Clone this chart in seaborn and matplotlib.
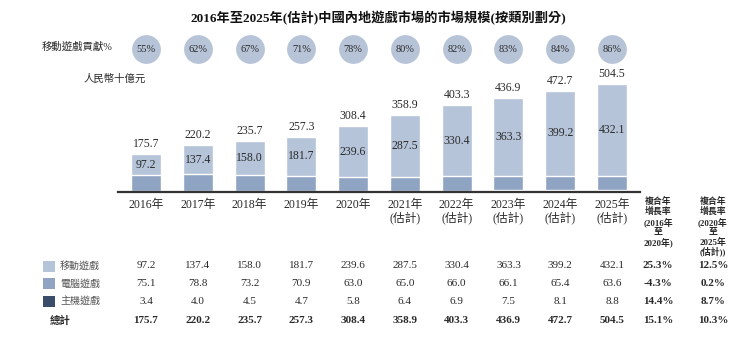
import numpy as np
import pandas as pd
import matplotlib
matplotlib.use('Agg')
import matplotlib.pyplot as plt
import seaborn as sns
from matplotlib.transforms import blended_transform_factory
from matplotlib.patches import Rectangle

# ---------------- data ----------------
years = ['2016年', '2017年', '2018年', '2019年', '2020年',
         '2021年\n(估計)', '2022年\n(估計)', '2023年\n(估計)', '2024年\n(估計)', '2025年\n(估計)']
mobile = [97.2, 137.4, 158.0, 181.7, 239.6, 287.5, 330.4, 363.3, 399.2, 432.1]
pc = [75.1, 78.8, 73.2, 70.9, 63.0, 65.0, 66.0, 66.1, 65.4, 63.6]
console = [3.4, 4.0, 4.5, 4.7, 5.8, 6.4, 6.9, 7.5, 8.1, 8.8]
total = [175.7, 220.2, 235.7, 257.3, 308.4, 358.9, 403.3, 436.9, 472.7, 504.5]
mobile_share = ['55%', '62%', '67%', '71%', '78%', '80%', '82%', '83%', '84%', '86%']
series_names = ['移動遊戲', '電腦遊戲', '主機遊戲']
total_name = '總計'
cagr_1620 = ['25.3%', '-4.3%', '14.4%', '15.1%']
cagr_2025 = ['12.5%', '0.2%', '8.7%', '10.3%']
cagr_head1 = ['複合年', '增長率', '(2016年', '至', '2020年)']
cagr_head2 = ['複合年', '增長率', '(2020年', '至', '2025年', '(估計))']
title = '2016年至2025年(估計)中國內地遊戲市場的市場規模(按類別劃分)'
share_label = '移動遊戲貢獻%'
unit_label = '人民幣十億元'

# ---------------- style ----------------
C_LIGHT = '#b5c4d9'
C_MED = '#8fa3c2'
C_DARK = '#3b4c6b'
C_CIRCLE = '#b7c4d8'
TXT = '#2a2a2a'

sns.set_theme(style='white')
FONT = ['Liberation Serif', 'Noto Sans CJK TC']
plt.rcParams['font.family'] = FONT

W, H = 750, 337
fig = plt.figure(figsize=(W / 100, H / 100), dpi=100)
fig.patch.set_facecolor('white')

base_px = 192
top_px = 40
scale = 0.2145  # px per unit
ax = fig.add_axes([118 / W, (H - base_px) / H, (640 - 118) / W, (base_px - top_px) / H])

df = pd.DataFrame({'year': years, 'mobile': mobile, 'pc': pc, 'console': console, 'total': total})
df['mid'] = df['pc'] + df['console']
df['top'] = df['mid'] + df['mobile']

bw = 0.58
sns.barplot(data=df, x='year', y='top', color=C_LIGHT, saturation=1, width=bw, ax=ax, order=years)
sns.barplot(data=df, x='year', y='mid', color=C_MED, saturation=1, width=bw, ax=ax, order=years)
sns.barplot(data=df, x='year', y='console', color=C_DARK, saturation=1, width=bw, ax=ax, order=years)

ax.set_xlim(-0.54, 9.54)
ax.set_ylim(0, (base_px - top_px) / scale)
ax.set_xlabel('')
ax.set_ylabel('')
ax.set_yticks([])
for s in ['top', 'right', 'left']:
    ax.spines[s].set_visible(False)
ax.spines['bottom'].set_color('#333333')
ax.spines['bottom'].set_linewidth(1.6)
ax.tick_params(axis='x', length=0, pad=5, labelsize=8.5, colors=TXT)
ax.set_xticks(range(len(years)))
ax.set_xticklabels(years, fontfamily=FONT, linespacing=1.0)

# value labels on bars
for i in range(len(years)):
    ax.text(i, df['top'][i] + 10 / scale, f'{total[i]:.1f}',
            ha='center', va='center', fontsize=8.5, color=TXT)
    ax.text(i, df['mid'][i] + mobile[i] / 2, f'{mobile[i]:.1f}',
            ha='center', va='center', fontsize=8.5, color=TXT)

trans = blended_transform_factory(ax.transData, fig.transFigure)

def fy(ypx):
    return 1 - ypx / H

# title
fig.text(378 / W, fy(18), title, ha='center', va='center', fontsize=9.5, fontweight='bold', color='#111111')

# circles row
xs = np.arange(len(years))
ax.scatter(xs, [fy(49)] * len(xs), s=430, color=C_CIRCLE, transform=trans, clip_on=False, zorder=3, linewidths=0)
for i in xs:
    ax.text(i, fy(49), mobile_share[i], transform=trans, ha='center', va='center', fontsize=7.5, color=TXT, zorder=4)
fig.text(77 / W, fy(47), share_label, ha='center', va='center', fontsize=7.5, color=TXT)
fig.text(115 / W, fy(79), unit_label, ha='center', va='center', fontsize=7.5, color=TXT)

# CAGR headers (one line at a time, ~10.2 px apart)
for xpx, lines in [(658, cagr_head1), (713, cagr_head2)]:
    for k, ln in enumerate(lines):
        fig.text(xpx / W, fy(201.5 + 10.2 * k), ln, ha='center', va='center', fontsize=6.4,
                 fontweight='bold', color=TXT)

# table
row_y = [266, 283.5, 301]
colors = [C_LIGHT, C_MED, C_DARK]
vals = [mobile, pc, console]
for r in range(3):
    fig.patches.append(Rectangle((43 / W, fy(row_y[r] + 5.5)), 12 / W, 11 / H, transform=fig.transFigure,
                                 facecolor=colors[r], edgecolor='none'))
    fig.text(60 / W, fy(row_y[r]), series_names[r], ha='left', va='center', fontsize=7.2, color='#555555')
    for i in xs:
        ax.text(i, fy(row_y[r]), f'{vals[r][i]:.1f}', transform=trans, ha='center', va='center',
                fontsize=8, color=TXT)
    fig.text(658 / W, fy(row_y[r]), cagr_1620[r], ha='center', va='center', fontsize=8, fontweight='bold', color=TXT)
    fig.text(713 / W, fy(row_y[r]), cagr_2025[r], ha='center', va='center', fontsize=8, fontweight='bold', color=TXT)

ty = 320.5
fig.text(50 / W, fy(ty), total_name, ha='left', va='center', fontsize=7.5, fontweight='bold', color=TXT)
for i in xs:
    ax.text(i, fy(ty), f'{total[i]:.1f}', transform=trans, ha='center', va='center',
            fontsize=8, fontweight='bold', color=TXT)
fig.text(658 / W, fy(ty), cagr_1620[3], ha='center', va='center', fontsize=8, fontweight='bold', color=TXT)
fig.text(713 / W, fy(ty), cagr_2025[3], ha='center', va='center', fontsize=8, fontweight='bold', color=TXT)

fig.savefig('out.png', dpi=100, facecolor='white')
